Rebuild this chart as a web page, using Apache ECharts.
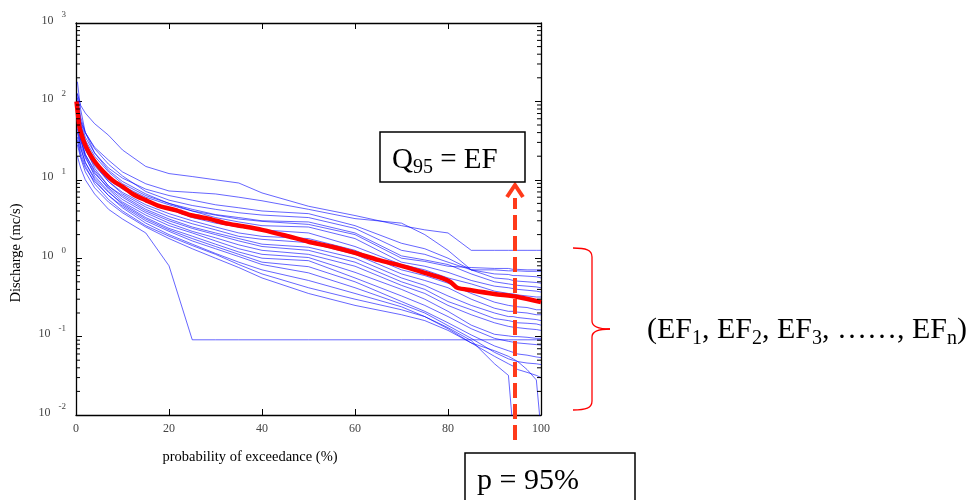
<!DOCTYPE html>
<html><head><meta charset="utf-8">
<script src="https://cdn.jsdelivr.net/npm/echarts@6.0.0/dist/echarts.min.js"></script>
<style>html,body{margin:0;padding:0;background:#fff}#c{width:973px;height:500px}</style>
</head><body><div id="c"></div>
<script>
// probability of exceedance (%) grid shared by the annual duration curves
const P = [0.3, 1, 2, 4, 7, 10, 15, 20, 25, 30, 35, 40, 50, 60, 70, 75, 80, 85, 90, 93, 94, 95, 97, 99, 100];
// discharge (mc/s) of each yearly flow duration curve
const curveA = [126, 89, 71, 52, 37, 24, 14.8, 12, 11, 10, 9.1, 6.8, 4.6, 3.5, 2.6, 2.3, 2.1, 1.26, 1.26, 1.26, 1.26, 1.26, 1.26, 1.26, 1.26];
const curveB = [79, 56, 40, 26, 17.8, 12.6, 8.9, 7.2, 6.9, 6.6, 6.0, 5.4, 4.2, 3.2, 2.8, 2.0, 1.26, 0.71, 0.71, 0.69, 0.69, 0.69, 0.68, 0.68, 0.68];
const curve1 = [100, 56, 35, 22, 14.1, 10.5, 7.6, 6.3, 5.5, 4.8, 4.4, 4.0, 3.7, 2.6, 1.55, 1.32, 1.0, 0.71, 0.63, 0.62, 0.60, 0.60, 0.59, 0.58, 0.56];
const curve2 = [126, 63, 40, 25, 15.8, 11.2, 7.1, 5.5, 4.7, 4.2, 3.8, 3.55, 3.3, 2.4, 1.26, 1.12, 0.89, 0.71, 0.56, 0.54, 0.52, 0.51, 0.50, 0.49, 0.48];
const curve3 = [89, 50, 32, 20, 12.6, 8.9, 6.3, 5.0, 4.2, 3.6, 3.3, 3.0, 2.9, 2.1, 1.07, 0.95, 0.83, 0.63, 0.50, 0.47, 0.46, 0.45, 0.44, 0.43, 0.42];
const curve4 = [71, 40, 28, 17.8, 11.2, 8.3, 6.0, 4.8, 4.0, 3.55, 3.16, 2.95, 2.7, 2.0, 1.0, 0.91, 0.79, 0.76, 0.74, 0.74, 0.72, 0.72, 0.71, 0.71, 0.71];
const curve5 = [178, 79, 40, 22, 13.2, 9.5, 6.6, 5.0, 4.0, 3.3, 2.9, 2.6, 2.5, 1.78, 0.89, 0.79, 0.66, 0.52, 0.44, 0.42, 0.41, 0.40, 0.39, 0.38, 0.37];
const curve6 = [79, 45, 28, 16.6, 10, 7.6, 5.2, 4.2, 3.3, 2.8, 2.5, 2.3, 2.1, 1.41, 0.83, 0.71, 0.56, 0.47, 0.38, 0.355, 0.35, 0.34, 0.33, 0.32, 0.32];
const curve7 = [63, 35, 24, 15.1, 9.5, 6.9, 4.8, 3.7, 3.0, 2.5, 2.1, 1.9, 1.78, 1.26, 0.71, 0.60, 0.48, 0.355, 0.275, 0.25, 0.245, 0.24, 0.235, 0.22, 0.22];
const curve8 = [112, 50, 28, 15.8, 9.5, 6.6, 4.5, 3.4, 2.75, 2.3, 1.9, 1.74, 1.58, 1.12, 0.63, 0.52, 0.42, 0.30, 0.23, 0.21, 0.21, 0.205, 0.20, 0.19, 0.19];
const curve9 = [56, 32, 21, 13.2, 8.3, 6.3, 4.2, 3.16, 2.5, 2.1, 1.78, 1.51, 1.38, 1.0, 0.56, 0.45, 0.33, 0.25, 0.20, 0.18, 0.18, 0.175, 0.17, 0.165, 0.16];
const curve10 = [89, 42, 25, 14.1, 8.3, 6.0, 4.0, 3.0, 2.4, 2.0, 1.66, 1.41, 1.26, 0.89, 0.50, 0.40, 0.28, 0.22, 0.17, 0.16, 0.155, 0.15, 0.148, 0.145, 0.14];
const curve11 = [50, 28, 19, 12, 7.9, 5.6, 3.8, 2.8, 2.2, 1.82, 1.48, 1.26, 1.12, 0.79, 0.45, 0.355, 0.25, 0.19, 0.15, 0.135, 0.132, 0.13, 0.126, 0.123, 0.12];
const curve12 = [71, 35, 21, 12.6, 7.6, 5.2, 3.55, 2.6, 2.1, 1.66, 1.32, 1.12, 1.02, 0.66, 0.40, 0.30, 0.21, 0.14, 0.107, 0.102, 0.1, 0.1, 0.098, 0.095, 0.095];
const curve13 = [40, 25, 16.6, 10.5, 6.9, 5.0, 3.3, 2.4, 1.91, 1.51, 1.2, 1.0, 0.93, 0.56, 0.33, 0.25, 0.18, 0.126, 0.095, 0.087, 0.085, 0.083, 0.081, 0.079, 0.078];
const curve14 = [56, 32, 20, 11.2, 7.1, 4.8, 3.16, 2.3, 1.78, 1.41, 1.12, 0.89, 0.78, 0.50, 0.28, 0.21, 0.15, 0.105, 0.076, 0.066, 0.063, 0.060, 0.058, 0.055, 0.054];
const curve15 = [32, 20, 14.1, 9.5, 6.3, 4.6, 3.0, 2.2, 1.66, 1.32, 1.05, 0.83, 0.65, 0.42, 0.26, 0.20, 0.138, 0.095, 0.063, 0.052, 0.05, 0.048, 0.046, 0.045, 0.044];
const curve16 = [45, 26, 16.6, 10, 6.3, 4.4, 2.8, 2.0, 1.51, 1.15, 0.89, 0.71, 0.52, 0.355, 0.24, 0.18, 0.126, 0.083, 0.056, 0.045, 0.042, 0.038, 0.035, 0.032, 0.030];
const curve17 = [35, 22, 15.1, 8.9, 5.6, 4.0, 2.6, 1.91, 1.45, 1.12, 0.83, 0.63, 0.42, 0.30, 0.22, 0.18, 0.13, 0.089, 0.045, 0.032, 0.0063, 0.0063, 0.0063, 0.0063, 0.0063];
const curve18 = [28, 19, 12.6, 7.9, 5.2, 3.8, 2.5, 1.78, 1.32, 1.0, 0.76, 0.56, 0.355, 0.25, 0.19, 0.16, 0.12, 0.083, 0.066, 0.056, 0.052, 0.048, 0.038, 0.028, 0.0063];
const curveZ = [20, 14.1, 10, 6.6, 4.2, 3.16, 2.1, 0.8, 0.091, 0.091, 0.091, 0.091, 0.091, 0.091, 0.091, 0.091, 0.091, 0.091, 0.091, 0.091, 0.091, 0.091, 0.091, 0.091, 0.091];
// red reference (period-of-record) curve
const medianP = [0.1, 0.4, 0.75, 1.3, 2.2, 3.5, 5, 7.9, 10, 12.2, 15, 18, 21.4, 25, 28.5, 32, 36, 40, 45, 50, 55, 60, 65, 70, 75, 79, 80.5, 82, 85, 90, 95, 100];
const medianQ = [100, 70, 47, 36, 26, 19, 14.5, 9.8, 8.2, 6.6, 5.5, 4.6, 4.1, 3.5, 3.2, 2.8, 2.55, 2.3, 1.95, 1.62, 1.4, 1.17, 0.95, 0.8, 0.65, 0.55, 0.5, 0.42, 0.39, 0.35, 0.32, 0.275];
// axis ticks
const xTicks = [0, 20, 40, 60, 80, 100];
const yDecades = [0.01, 0.1, 1, 10, 100, 1000];
const minorMantissa = [2, 3, 4, 5, 6, 7, 8, 9];

const FONT = 'Liberation Serif';
const blueCurves = [curveA, curveB, curve1, curve2, curve3, curve4, curve5, curve6, curve7, curve8, curve9,
  curve10, curve11, curve12, curve13, curve14, curve15, curve16, curve17, curve18, curveZ];

const minorData = [];
yDecades.slice(0, -1).forEach(d => minorMantissa.forEach(m => minorData.push([0, m * d])));

const series = blueCurves.map(c => ({
  type: 'line', data: P.map((p, j) => [p, c[j]]), symbol: 'none', silent: true, z: 2,
  lineStyle: { color: 'rgba(0,0,255,0.6)', width: 1 }
}));
series.push({
  type: 'line', data: medianP.map((p, j) => [p, medianQ[j]]), symbol: 'none', smooth: 0.25, z: 3,
  lineStyle: { color: '#ff0000', width: 4.5 }
});
series.push({
  type: 'custom', data: minorData, silent: true, z: 4, clip: false,
  renderItem: (params, api) => {
    const v = api.value(1);
    const l = api.coord([xTicks[0], v]);
    const r = api.coord([xTicks[xTicks.length - 1], v]);
    return { type: 'group', children: [
      { type: 'line', shape: { x1: l[0], y1: l[1], x2: l[0] + 4, y2: l[1] }, style: { stroke: '#000', lineWidth: 1 } },
      { type: 'line', shape: { x1: r[0], y1: r[1], x2: r[0] - 4, y2: r[1] }, style: { stroke: '#000', lineWidth: 1 } }
    ] };
  }
});

const axisLine = { show: true, onZero: false, lineStyle: { color: '#000', width: 1.3 } };
const tick = { show: true, inside: true, length: 6, lineStyle: { color: '#000', width: 1 } };
const yLabel = {
  show: true, margin: 10, padding: [0, 0, 13, 0],
  formatter: v => '{b|10}{e|' + Math.round(Math.log10(v)) + '}',
  rich: {
    b: { fontFamily: FONT, fontSize: 12, color: '#444', lineHeight: 20, verticalAlign: 'bottom' },
    e: { fontFamily: FONT, fontSize: 9, color: '#444', lineHeight: 10, verticalAlign: 'top', padding: [4, 0, 0, 8] }
  }
};
const RED = '#ff0000', ORANGE = '#ff3a1a';
const braceStyle = { stroke: RED, lineWidth: 1.3, fill: null };

const option = {
  animation: false,
  backgroundColor: '#fff',
  grid: { left: 76, top: 23, width: 465, height: 392 },
  xAxis: [
    { type: 'value', min: xTicks[0], max: xTicks[xTicks.length - 1], interval: 20, position: 'bottom',
      axisLine, axisTick: tick, splitLine: { show: false },
      axisLabel: { color: '#444', fontFamily: FONT, fontSize: 12, margin: 8 } },
    { type: 'value', min: xTicks[0], max: xTicks[xTicks.length - 1], interval: 20, position: 'top',
      axisLine, axisTick: tick, splitLine: { show: false }, axisLabel: { show: false } }
  ],
  yAxis: [
    { type: 'log', logBase: 10, min: yDecades[0], max: yDecades[yDecades.length - 1], position: 'left',
      axisLine, axisTick: tick, splitLine: { show: false }, axisLabel: yLabel },
    { type: 'log', logBase: 10, min: yDecades[0], max: yDecades[yDecades.length - 1], position: 'right',
      axisLine, axisTick: tick, splitLine: { show: false }, axisLabel: { show: false } }
  ],
  series,
  graphic: [
    { type: 'text', x: 16, y: 253, rotation: Math.PI / 2,
      style: { text: 'Discharge (mc/s)', fontFamily: FONT, fontSize: 14.5, fill: '#000', align: 'center', verticalAlign: 'middle' } },
    { type: 'text', x: 250, y: 457,
      style: { text: 'probability of exceedance (%)', fontFamily: FONT, fontSize: 14.5, fill: '#000', align: 'center', verticalAlign: 'middle' } },
    { type: 'line', z: 10, shape: { x1: 515, y1: 440, x2: 515, y2: 198 },
      style: { stroke: ORANGE, lineWidth: 4, lineDash: [15, 6] } },
    { type: 'polyline', z: 10, shape: { points: [[507, 197], [515, 185], [523, 197]] },
      style: { stroke: ORANGE, lineWidth: 4, fill: null, lineJoin: 'miter' } },
    { type: 'rect', z: 11, shape: { x: 380, y: 132, width: 145, height: 50 },
      style: { fill: '#fff', stroke: '#000', lineWidth: 1.5 } },
    { type: 'text', z: 12, x: 392, y: 162,
      style: { text: '{a|Q}{s|95}{a| = EF}', verticalAlign: 'middle', align: 'left',
        rich: { a: { fontFamily: FONT, fontSize: 29, fill: '#000', lineHeight: 32, verticalAlign: 'top' },
                s: { fontFamily: FONT, fontSize: 20, fill: '#000', lineHeight: 15, verticalAlign: 'bottom' } } } },
    { type: 'rect', z: 11, shape: { x: 465, y: 453, width: 170, height: 60 },
      style: { fill: '#fff', stroke: '#000', lineWidth: 1.5 } },
    { type: 'text', z: 12, x: 477, y: 481,
      style: { text: 'p = 95%', fontFamily: FONT, fontSize: 30, fill: '#000', align: 'left', verticalAlign: 'middle' } },
    { type: 'bezierCurve', z: 10, shape: { x1: 573, y1: 248, cpx1: 586, cpy1: 248, cpx2: 592, cpy2: 250, x2: 592, y2: 257 }, style: braceStyle },
    { type: 'line', z: 10, shape: { x1: 592, y1: 257, x2: 592, y2: 321 }, style: braceStyle },
    { type: 'bezierCurve', z: 10, shape: { x1: 592, y1: 321, cpx1: 592, cpy1: 326, cpx2: 597, cpy2: 329, x2: 610, y2: 329 }, style: braceStyle },
    { type: 'bezierCurve', z: 10, shape: { x1: 610, y1: 329, cpx1: 597, cpy1: 329, cpx2: 592, cpy2: 332, x2: 592, y2: 337 }, style: braceStyle },
    { type: 'line', z: 10, shape: { x1: 592, y1: 337, x2: 592, y2: 401 }, style: braceStyle },
    { type: 'bezierCurve', z: 10, shape: { x1: 592, y1: 401, cpx1: 592, cpy1: 408, cpx2: 586, cpy2: 410, x2: 573, y2: 410 }, style: braceStyle },
    { type: 'text', z: 12, x: 647, y: 332,
      style: { text: '{a|(EF}{s|1}{a|, EF}{s|2}{a|, EF}{s|3}{a|, ……, EF}{s|n}{a|)}', verticalAlign: 'middle', align: 'left',
        rich: { a: { fontFamily: FONT, fontSize: 30, fill: '#000', lineHeight: 33, verticalAlign: 'top' },
                s: { fontFamily: FONT, fontSize: 20, fill: '#000', lineHeight: 15, verticalAlign: 'bottom' } } } }
  ]
};
const chart = echarts.init(document.getElementById('c'));
chart.setOption(option);
</script></body></html>
